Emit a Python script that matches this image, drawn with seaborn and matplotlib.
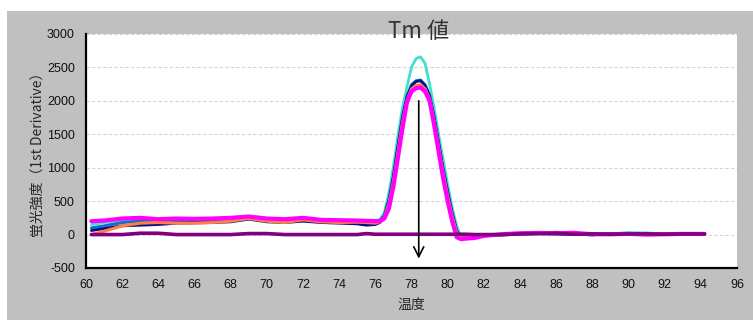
import matplotlib
matplotlib.use("Agg")
import matplotlib.pyplot as plt
from matplotlib.patches import Rectangle
from matplotlib.ticker import MultipleLocator
import seaborn as sns

# ── data ──
temps = [60.3, 61, 62, 63, 64, 65, 66, 67, 68, 69, 70, 71, 72, 73, 74, 75, 75.5, 76,
         76.25, 76.5, 76.75, 77, 77.25, 77.5, 77.75, 78, 78.25, 78.5, 78.75, 79,
         79.25, 79.5, 79.75, 80, 80.25, 80.5, 80.75, 81,
         81.5, 82, 83, 84, 85, 86, 87, 88, 89, 90, 91, 92, 93, 94, 94.2]

cyan = [150, 180, 220, 230, 220, 215, 220, 225, 235, 255, 225, 215, 235, 210, 205, 200, 200, 215,
        220, 330, 625, 1015, 1480, 1900, 2210, 2505, 2630, 2660, 2560, 2250,
        1900, 1500, 1130, 750, 400, 130, -40, -50,
        -30, -10, 0, 15, 10, 20, 10, 0, 10, 30, 25, 10, 5, 10, 10]

blue = [100, 130, 180, 200, 200, 205, 210, 215, 225, 245, 215, 205, 225, 200, 195, 185, 185, 200,
        210, 290, 520, 880, 1330, 1760, 2070, 2240, 2300, 2310, 2240, 2080,
        1760, 1370, 980, 640, 320, 60, -50, -50,
        -40, -10, 5, 10, 15, 10, 5, 0, 10, 10, 15, 10, 5, 10, 10]

navy = [60, 90, 130, 140, 150, 170, 175, 180, 190, 230, 190, 180, 200, 180, 170, 160, 140, 150,
        180, 270, 500, 860, 1310, 1740, 2050, 2220, 2290, 2300, 2230, 2070,
        1750, 1360, 970, 630, 310, 50, -50, -50,
        -40, -10, 0, 10, 15, 10, 5, -5, 15, 5, 10, 10, 5, 10, 10]

orange = [0, 50, 130, 170, 180, 170, 170, 180, 200, 240, 200, 180, 220, 190, 180, 185, 180, 170,
          190, 260, 460, 800, 1240, 1680, 2010, 2180, 2230, 2240, 2180, 2030,
          1700, 1310, 920, 580, 270, 30, -50, -50,
          -30, -10, -10, 15, 20, 35, 15, 5, 0, 10, 10, 10, 5, 0, 0]

magenta = [200, 210, 240, 250, 230, 240, 235, 240, 250, 270, 240, 230, 250, 220, 215, 210, 205, 200,
           200, 240, 390, 720, 1150, 1590, 1980, 2140, 2190, 2200, 2140, 2000,
           1640, 1240, 840, 500, 200, -40, -70, -60,
           -50, -20, 5, 20, 25, 20, 25, 5, 5, 10, 0, 5, 10, 10, 10]

purple = [0, 0, 0, 20, 20, 0, 0, 0, 0, 15, 15, 0, 0, 0, 0, 0, 15, 5,
          5, 5, 5, 5, 5, 5, 5, 5, 5, 5, 5, 5,
          5, 5, 5, 5, 5, 5, 5, 5,
          0, 0, 0, 10, 15, 20, 5, 10, 5, 10, 10, 5, 10, 10, 10]

series = [
    ("cyan", cyan, "#40e0d0", 2.0),
    ("blue", blue, "#1a6fc4", 2.2),
    ("navy", navy, "#00108a", 2.0),
    ("orange", orange, "#ff8040", 2.2),
    ("magenta", magenta, "#ff00ff", 3.0),
    ("purple", purple, "#800080", 2.6),
]

TM = 78.4
y_ticks = list(range(-500, 3001, 500))
x_ticks = list(range(60, 97, 2))

# ── style ──
sns.set_style("white")
plt.rcParams["font.family"] = ["Liberation Sans", "Noto Sans CJK JP", "DejaVu Sans"]
plt.rcParams["axes.unicode_minus"] = False

fig = plt.figure(figsize=(7.53, 3.2), dpi=100)
fig.patch.set_facecolor("white")
fig.patches.append(Rectangle((7 / 753, 0), 1, (320 - 11) / 320,
                             transform=fig.transFigure, facecolor="#c0c0c0",
                             edgecolor="none", zorder=-10))

ax = fig.add_axes([86 / 753, 52 / 320, (737 - 86) / 753, 234 / 320])
ax.set_zorder(1)
ax.set_facecolor("white")

for name, vals, color, lw in series:
    sns.lineplot(x=temps, y=vals, color=color, linewidth=lw, ax=ax,
                 estimator=None, sort=False)

ax.set_xlim(60, 96)
ax.set_ylim(-500, 3000)
ax.set_xticks(x_ticks)
ax.set_yticks(y_ticks)
ax.xaxis.set_minor_locator(MultipleLocator(1))
ax.yaxis.set_minor_locator(MultipleLocator(250))
ax.grid(axis="y", which="major", color="#d4d4d4", linestyle=(0, (3, 2)), linewidth=0.8)
ax.set_axisbelow(True)

for side in ["top", "right"]:
    ax.spines[side].set_visible(False)
for side in ["left", "bottom"]:
    ax.spines[side].set_color("black")
    ax.spines[side].set_linewidth(1.6)

ax.tick_params(axis="both", which="major", direction="out", length=5, width=1.3,
               colors="black", labelsize=9, labelcolor="#111111", pad=3)
ax.tick_params(axis="both", which="minor", direction="out", length=3, width=1.3,
               colors="black")

ax.set_xlabel("温度", fontsize=10, family=["Noto Sans CJK JP", "DejaVu Sans"], labelpad=5)
ax.set_ylabel("蛍光強度（1st Derivative）", fontsize=10,
              family=["Noto Sans CJK JP", "DejaVu Sans"], labelpad=2)

# Tm marker
ax.annotate("", xy=(TM, -360), xytext=(TM, 2000),
            arrowprops=dict(arrowstyle="->", color="black", lw=1.2,
                            mutation_scale=18, shrinkA=0, shrinkB=0))
ax.text(TM, 1.01, "Tm 値", transform=ax.get_xaxis_transform(), ha="center", va="center",
        fontsize=16, color="#333333", family=["Noto Sans CJK JP", "DejaVu Sans"],
        clip_on=False)

plt.savefig("out.png", dpi=100, facecolor="white")
